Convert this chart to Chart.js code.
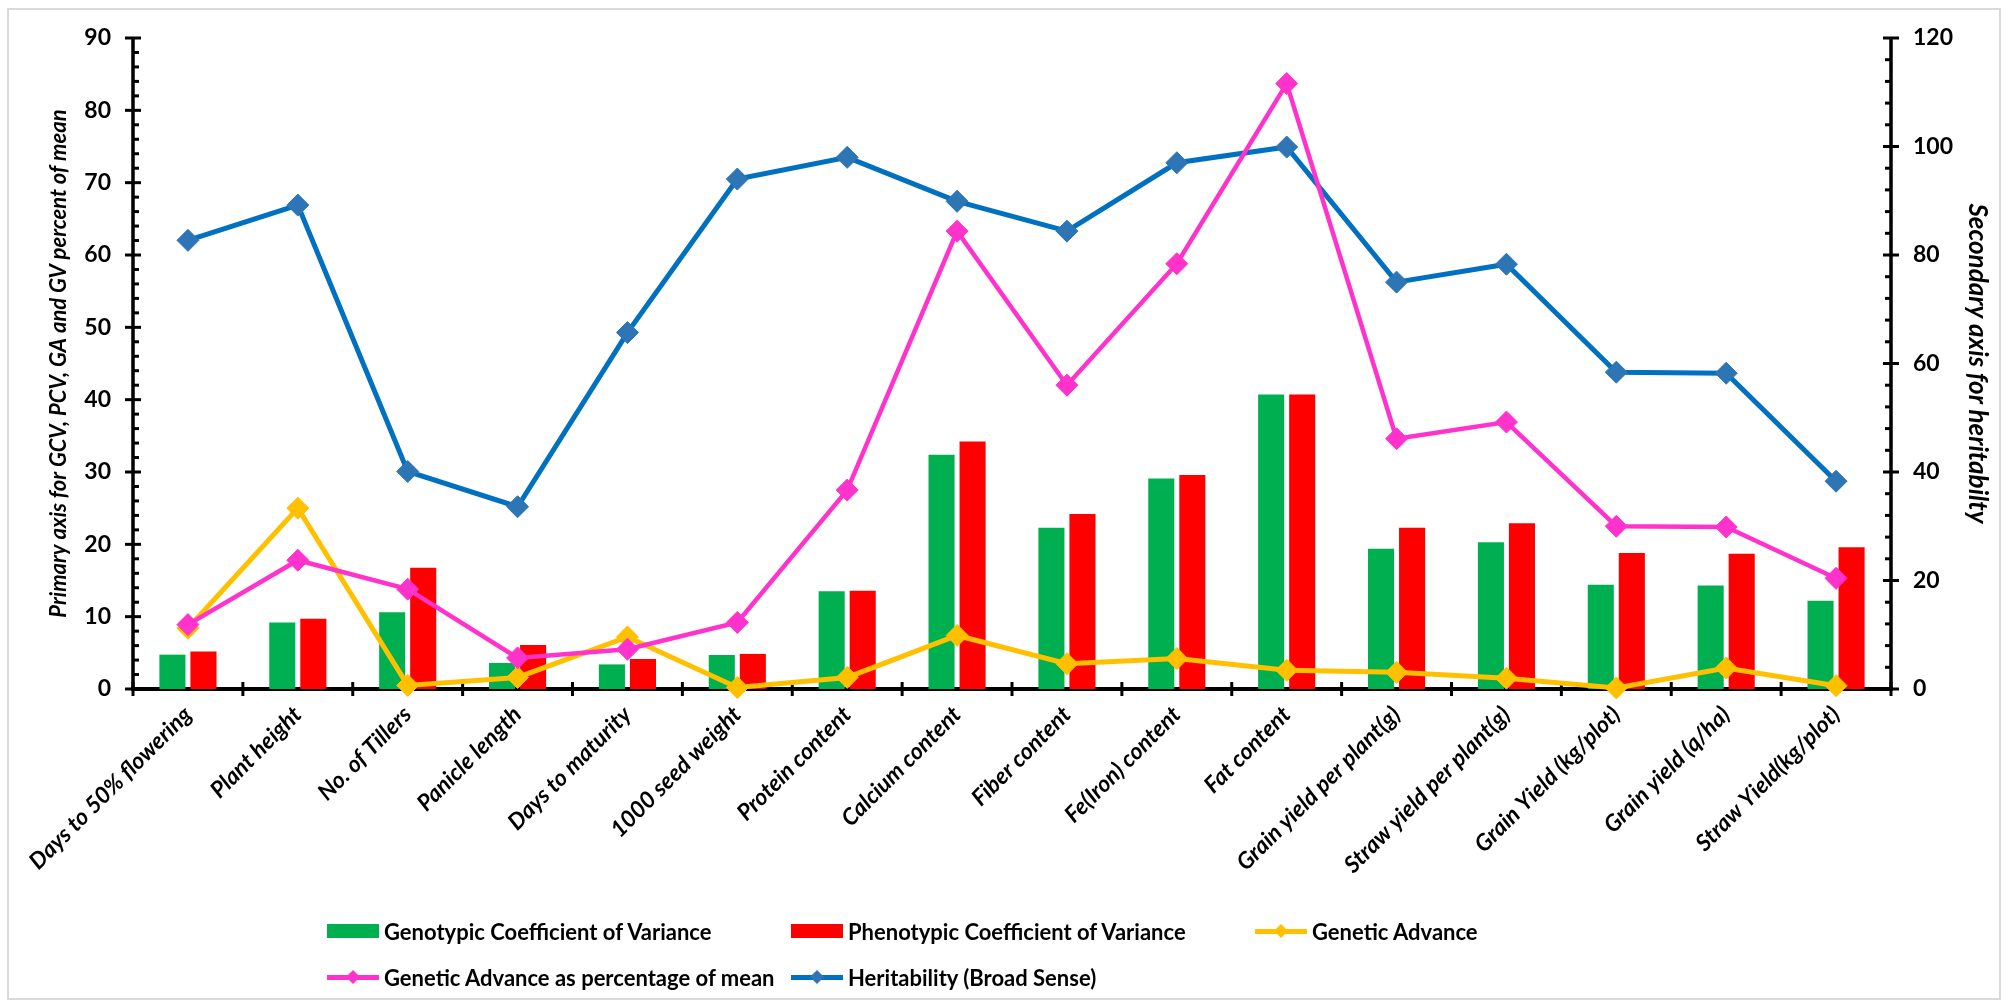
<!DOCTYPE html>
<html>
<head>
<meta charset="utf-8">
<script src="https://cdn.jsdelivr.net/npm/chart.js@4.4.1/dist/chart.umd.min.js"></script>
<style>
  html, body { margin: 0; padding: 0; background: #fff; }
  #wrap { position: relative; width: 2008px; height: 1007px; overflow: hidden; }
  #frame { position: absolute; left: 7px; top: 8px; width: 1994px; height: 992px; border: 2px solid #d9d9d9; box-sizing: border-box; }
  canvas { position: absolute; left: 0; top: 0; }
  #legend {
    position: absolute; left: 327px; top: 908px;
    display: grid; grid-template-columns: 464px 464px 464px; grid-auto-rows: 46px;
    font-family: "Lato", "Open Sans", sans-serif; font-weight: bold; font-size: 22px; color: #000;
  }
  .item { display: flex; align-items: center; white-space: nowrap; }
  .sym { position: relative; width: 52px; height: 14px; margin-right: 5px; flex: none; }
  .sym .bar { position: absolute; left: 0; top: 0; width: 52px; height: 14px; }
  .sym .ln { position: absolute; left: 0; top: 5px; width: 52px; height: 5px; }
  .sym .dm { position: absolute; left: 21px; top: 2px; width: 10px; height: 10px; transform: rotate(45deg); }
</style>
</head>
<body>
<div id="wrap">
  <div id="frame"></div>
  <canvas id="chart" width="2008" height="1007"></canvas>
  <div id="legend"></div>
</div>
<script>
// ---- data ----
const categories = [
  "Days to 50% flowering", "Plant height", "No. of Tillers", "Panicle length",
  "Days to maturity", "1000 seed weight", "Protein content", "Calcium content",
  "Fiber content", "Fe(Iron) content", "Fat content", "Grain yield per plant(g)",
  "Straw yield per plant(g)", "Grain Yield (kg/plot)", "Grain yield (q/ha)", "Straw Yield(kg/plot)"
];
const gcv = [4.75, 9.2, 10.6, 3.6, 3.4, 4.7, 13.5, 32.4, 22.3, 29.1, 40.7, 19.4, 20.3, 14.4, 14.3, 12.2];
const pcv = [5.2, 9.7, 16.75, 6.1, 4.15, 4.85, 13.6, 34.2, 24.2, 29.6, 40.7, 22.3, 22.9, 18.8, 18.7, 19.6];
const geneticAdvance = [8.4, 25.0, 0.5, 1.6, 7.2, 0.2, 1.6, 7.4, 3.5, 4.2, 2.6, 2.3, 1.5, 0.15, 2.9, 0.46];
const gaPercentMean = [8.9, 17.8, 13.8, 4.3, 5.5, 9.2, 27.5, 63.3, 42.0, 58.8, 83.7, 34.6, 36.9, 22.5, 22.4, 15.3];
const heritability = [82.7, 89.2, 40.1, 33.6, 65.7, 94.0, 98.0, 89.9, 84.4, 97.0, 99.9, 75.0, 78.3, 58.4, 58.2, 38.3];

const primaryTicks = [0, 10, 20, 30, 40, 50, 60, 70, 80, 90];
const secondaryTicks = [0, 20, 40, 60, 80, 100, 120];

// ---- styling ----
const FONT = '"Lato", "Open Sans", sans-serif';
const GREEN = '#00B050', RED = '#FF0000', GOLD = '#FFC000', PINK = '#FF33CC';
const BLUE = '#0070C0', BLUE_MARK = '#2E75B6';
const PRIMARY_MINOR = 2, SECONDARY_MINOR = 4;

// axis lines and tick marks (major ticks cross the axis, minor ticks point inwards)
const axisPlugin = {
  id: 'axisPlugin',
  beforeDatasetsDraw(chart) {
    const { ctx, chartArea: { left, right, top, bottom } } = chart;
    const x = chart.scales.x, y = chart.scales.y, y2 = chart.scales.y2;
    ctx.save();
    ctx.strokeStyle = '#000';
    ctx.lineCap = 'butt';

    ctx.lineWidth = 3.5;
    ctx.beginPath();
    ctx.moveTo(left, top); ctx.lineTo(left, bottom);
    ctx.moveTo(right, top); ctx.lineTo(right, bottom);
    ctx.stroke();

    ctx.lineWidth = 3;
    for (let v = y.min; v <= y.max + 1e-9; v += PRIMARY_MINOR) {
      const py = y.getPixelForValue(v);
      const major = primaryTicks.includes(v);
      ctx.beginPath();
      ctx.moveTo(major ? left - 8 : left, py);
      ctx.lineTo(left + (major ? 8 : 6), py);
      ctx.stroke();
    }
    for (let v = y2.min; v <= y2.max + 1e-9; v += SECONDARY_MINOR) {
      const py = y2.getPixelForValue(v);
      const major = secondaryTicks.includes(v);
      ctx.beginPath();
      ctx.moveTo(right - (major ? 8 : 6), py);
      ctx.lineTo(major ? right + 8 : right, py);
      ctx.stroke();
    }
    for (let i = 0; i <= categories.length; i++) {
      const px = x.getPixelForValue(i - 0.5);
      ctx.beginPath();
      ctx.moveTo(px, bottom - 7);
      ctx.lineTo(px, bottom + 7);
      ctx.stroke();
    }

    ctx.lineWidth = 4;
    ctx.beginPath();
    ctx.moveTo(left - 2, bottom); ctx.lineTo(right + 2, bottom);
    ctx.stroke();
    ctx.restore();
  }
};

const lineSet = (label, data, color, markColor, width, axis, order) => ({
  type: 'line', label, data, yAxisID: axis, order,
  borderColor: color, borderWidth: width,
  pointStyle: 'rectRot', pointRadius: 11, pointHoverRadius: 11,
  pointBackgroundColor: markColor, pointBorderColor: markColor, pointBorderWidth: 1,
  tension: 0, clip: false
});

const chart = new Chart(document.getElementById('chart'), {
  type: 'bar',
  data: {
    labels: categories,
    datasets: [
      { label: 'Genotypic Coefficient of Variance', data: gcv, backgroundColor: GREEN, yAxisID: 'y', order: 10,
        categoryPercentage: 0.565, barPercentage: 0.84 },
      { label: 'Phenotypic Coefficient of Variance', data: pcv, backgroundColor: RED, yAxisID: 'y', order: 11,
        categoryPercentage: 0.565, barPercentage: 0.84 },
      lineSet('Genetic Advance', geneticAdvance, GOLD, GOLD, 5, 'y', 2),
      lineSet('Genetic Advance as percentage of mean', gaPercentMean, PINK, PINK, 4.5, 'y', 1),
      lineSet('Heritability (Broad Sense)', heritability, BLUE, BLUE_MARK, 5, 'y2', 3)
    ]
  },
  options: {
    responsive: false,
    animation: false,
    devicePixelRatio: 1,
    layout: { padding: { top: 38, left: 0, right: 0, bottom: 0 } },
    plugins: { legend: { display: false }, tooltip: { enabled: false } },
    scales: {
      x: {
        grid: { display: false, drawTicks: false },
        border: { display: false },
        ticks: {
          autoSkip: false, minRotation: 45, maxRotation: 45, padding: 12,
          color: '#000', font: { family: FONT, size: 23, weight: 'bold', style: 'italic' }
        },
        afterFit(scale) { scale.height = 318; }
      },
      y: {
        position: 'left', min: 0, max: 90,
        afterBuildTicks(scale) { scale.ticks = primaryTicks.map(v => ({ value: v })); },
        grid: { display: false, drawTicks: false },
        border: { display: false },
        ticks: { padding: 22, color: '#000', font: { family: FONT, size: 23, weight: 'bold' } },
        title: {
          display: true, text: 'Primary axis for GCV, PCV, GA and GV percent of mean',
          color: '#000', padding: { top: 46, bottom: 0 },
          font: { family: FONT, size: 22, weight: 'bold', style: 'italic' }
        },
        afterFit(scale) { scale.width = 133; }
      },
      y2: {
        position: 'right', min: 0, max: 120,
        afterBuildTicks(scale) { scale.ticks = secondaryTicks.map(v => ({ value: v })); },
        grid: { display: false, drawTicks: false },
        border: { display: false },
        ticks: { padding: 22, color: '#000', font: { family: FONT, size: 23, weight: 'bold' } },
        title: {
          display: true, text: 'Secondary axis for heritabilty',
          color: '#000', padding: { top: 15, bottom: 0 },
          font: { family: FONT, size: 26, weight: 'bold', style: 'italic' }
        },
        afterFit(scale) { scale.width = 117; }
      }
    }
  },
  plugins: [axisPlugin]
});

// legend laid out in three columns
const legend = document.getElementById('legend');
chart.data.datasets.forEach(ds => {
  const item = document.createElement('div');
  item.className = 'item';
  const sym = document.createElement('div');
  sym.className = 'sym';
  if (ds.type === 'line') {
    sym.innerHTML = '<div class="ln" style="background:' + ds.borderColor + '"></div>' +
      '<div class="dm" style="background:' + ds.pointBackgroundColor + '"></div>';
  } else {
    sym.innerHTML = '<div class="bar" style="background:' + ds.backgroundColor + '"></div>';
  }
  const txt = document.createElement('span');
  txt.textContent = ds.label;
  item.appendChild(sym);
  item.appendChild(txt);
  legend.appendChild(item);
});
</script>
</body>
</html>
